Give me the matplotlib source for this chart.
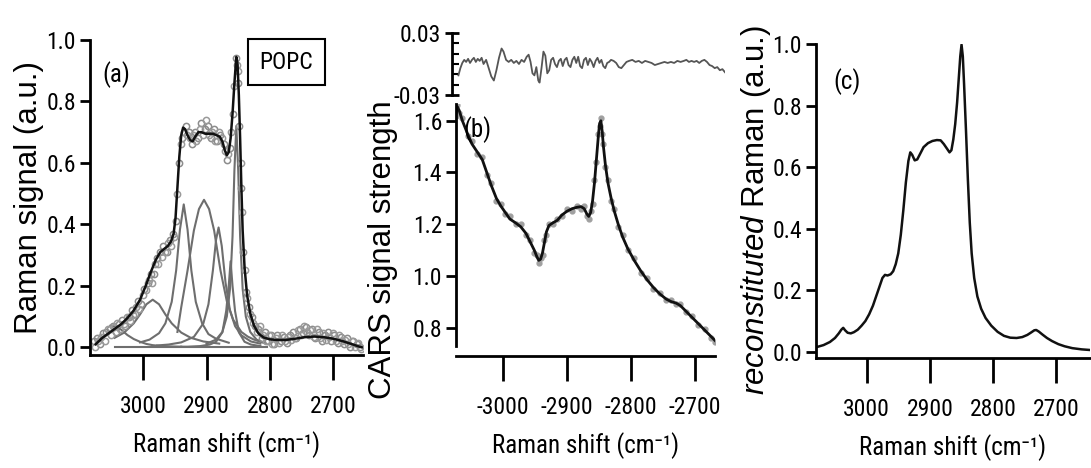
import matplotlib
matplotlib.use('Agg')
import matplotlib.pyplot as plt

COND = ['Roboto Condensed', 'PT Sans Narrow', 'Archivo Narrow', 'Liberation Sans', 'DejaVu Sans']
plt.rcParams['font.family'] = COND
plt.rcParams['mathtext.fontset'] = 'custom'
plt.rcParams['mathtext.it'] = 'Liberation Sans:italic'
plt.rcParams['mathtext.rm'] = 'Liberation Sans'

# ---- panel (a): spontaneous Raman of POPC, fit and components ----
data_a_w = [3078, 3073, 3068, 3063, 3058, 3053, 3048, 3043, 3038, 3033, 3028, 3023, 3018, 3013,
            3008, 3003, 2998, 2993, 2988, 2983, 2978, 2973, 2968, 2963, 2958, 2953, 2948, 2943,
            2938, 2933, 2928, 2923, 2918, 2913, 2908, 2903, 2898, 2893, 2888, 2883, 2878, 2873,
            2868, 2863, 2858, 2854, 2851, 2848, 2845, 2842, 2838, 2833, 2828, 2823, 2818, 2813,
            2808, 2803, 2798, 2793, 2788, 2783, 2778, 2773, 2768, 2763, 2758, 2753, 2748, 2743,
            2738, 2733, 2728, 2723, 2718, 2713, 2708, 2703, 2698, 2693, 2688, 2683, 2678, 2673,
            2668, 2663, 2658]
data_a_v = [0.02, 0.03, 0.01, 0.045, 0.05, 0.06, 0.07, 0.05, 0.075, 0.09, 0.07, 0.10, 0.12, 0.11,
            0.15, 0.14, 0.19, 0.21, 0.24, 0.24, 0.29, 0.31, 0.33, 0.31, 0.35, 0.37, 0.41, 0.60,
            0.68, 0.72, 0.70, 0.66, 0.70, 0.68, 0.73, 0.71, 0.72, 0.68, 0.71, 0.67, 0.69, 0.66,
            0.61, 0.65, 0.76, 0.94, 0.86, 0.72, 0.52, 0.31, 0.18, 0.13, 0.10, 0.07, 0.06, 0.03,
            0.05, 0.02, 0.04, 0.01, 0.04, 0.02, 0.035, 0.015, 0.04, 0.05, 0.03, 0.06, 0.045, 0.065,
            0.04, 0.06, 0.03, 0.05, 0.02, 0.04, 0.05, 0.02, 0.04, 0.015, 0.035, 0.01, 0.03, 0.0,
            0.02, 0.01, 0.0]
data_a2_w = [3076, 3071, 3066, 3061, 3056, 3051, 3046, 3041, 3036, 3031, 3026, 3021, 3016, 3011,
             3006, 3001, 2996, 2991, 2986, 2981, 2976, 2971, 2966, 2961, 2956, 2951, 2946, 2941,
             2936, 2931, 2926, 2921, 2916, 2911, 2906, 2901, 2896, 2891, 2886, 2881, 2876, 2871,
             2866, 2861, 2856, 2852, 2850, 2846, 2844, 2840, 2836, 2831, 2826, 2821, 2816, 2811,
             2806, 2801, 2796, 2791, 2786, 2781, 2776, 2771, 2766, 2761, 2756, 2751, 2746, 2741,
             2736, 2731, 2726, 2721, 2716, 2711, 2706, 2701, 2696, 2691, 2686, 2681, 2676, 2671,
             2666, 2661, 2656]
data_a2_v = [0.0, 0.02, 0.035, 0.02, 0.06, 0.04, 0.065, 0.08, 0.06, 0.075, 0.10, 0.085, 0.105, 0.13,
             0.125, 0.17, 0.185, 0.22, 0.21, 0.27, 0.27, 0.295, 0.31, 0.34, 0.33, 0.36, 0.50, 0.66,
             0.70, 0.69, 0.68, 0.69, 0.67, 0.71, 0.69, 0.74, 0.69, 0.70, 0.67, 0.70, 0.68, 0.64,
             0.63, 0.70, 0.85, 0.92, 0.90, 0.60, 0.44, 0.25, 0.16, 0.11, 0.08, 0.05, 0.07, 0.04,
             0.02, 0.04, 0.01, 0.03, 0.015, 0.04, 0.02, 0.035, 0.025, 0.03, 0.055, 0.04, 0.07, 0.05,
             0.055, 0.035, 0.06, 0.03, 0.045, 0.025, 0.035, 0.045, 0.02, 0.04, 0.02, 0.025, 0.01, 0.02,
             0.0, 0.015, -0.005]

fit_a_w = [3075, 3065, 3055, 3045, 3035, 3025, 3015, 3005, 2996, 2988, 2980, 2973, 2967, 2961,
           2956, 2952, 2949, 2946, 2943, 2940, 2937, 2934, 2930, 2926, 2922, 2918, 2913, 2908,
           2902, 2896, 2890, 2884, 2879, 2875, 2871, 2868, 2865, 2862, 2859, 2856, 2853, 2851,
           2849, 2847, 2845, 2843, 2840, 2836, 2831, 2825, 2818, 2810, 2800, 2790, 2775, 2760,
           2745, 2730, 2715, 2700, 2685, 2670, 2660, 2655]
fit_a_v = [0.01, 0.03, 0.045, 0.06, 0.075, 0.095, 0.12, 0.155, 0.2, 0.245, 0.285, 0.31, 0.32, 0.33,
           0.345, 0.37, 0.42, 0.52, 0.62, 0.69, 0.715, 0.71, 0.69, 0.675, 0.67, 0.685, 0.70, 0.70,
           0.695, 0.695, 0.695, 0.69, 0.685, 0.67, 0.64, 0.625, 0.635, 0.68, 0.76, 0.86, 0.945, 0.92,
           0.82, 0.68, 0.52, 0.38, 0.26, 0.17, 0.11, 0.07, 0.045, 0.032, 0.026, 0.024, 0.024, 0.028,
           0.033, 0.035, 0.033, 0.028, 0.02, 0.01, 0.003, 0.0]

comp1_w = [3052, 3045, 3035, 3025, 3015, 3005, 2995, 2985, 2975, 2960, 2940]
comp1_v = [0.07, 0.068, 0.058, 0.04, 0.027, 0.018, 0.011, 0.007, 0.005, 0.003, 0.002]
comp2_w = [3045, 3030, 3015, 3005, 2995, 2985, 2975, 2965, 2955, 2940, 2925, 2905, 2880]
comp2_v = [0.031, 0.048, 0.078, 0.107, 0.14, 0.155, 0.14, 0.107, 0.078, 0.048, 0.031, 0.019, 0.012]
comp3_w = [3005, 2990, 2975, 2965, 2955, 2948, 2942, 2936, 2930, 2924, 2917, 2907, 2897, 2885, 2865]
comp3_v = [0.016, 0.025, 0.046, 0.078, 0.148, 0.25, 0.383, 0.465, 0.383, 0.25, 0.148, 0.078, 0.043,
           0.028, 0.015]
comp4_w = [2946, 2940, 2930, 2920, 2912, 2904, 2896, 2888, 2878, 2868, 2858, 2845, 2835, 2825, 2810]
comp4_v = [0.05, 0.13, 0.25, 0.38, 0.45, 0.48, 0.45, 0.38, 0.25, 0.15, 0.09, 0.05, 0.035, 0.025, 0.015]
comp5_w = [2978, 2960, 2940, 2920, 2905, 2897, 2890, 2885, 2881, 2876, 2870, 2863, 2855, 2845, 2830,
           2815]
comp5_v = [0.006, 0.009, 0.016, 0.034, 0.078, 0.14, 0.25, 0.35, 0.39, 0.33, 0.21, 0.12, 0.069, 0.039,
           0.019, 0.012]
comp6_w = [2940, 2930, 2910, 2895, 2885, 2875, 2869, 2865, 2862, 2859, 2855, 2849, 2840, 2830, 2815]
comp6_v = [0.002, 0.002, 0.004, 0.009, 0.018, 0.049, 0.118, 0.2, 0.28, 0.2, 0.118, 0.049, 0.018,
           0.009, 0.004]
comp7_w = [2900, 2885, 2875, 2868, 2863, 2859, 2856, 2853, 2850, 2847, 2843, 2838, 2831, 2821, 2806]
comp7_v = [0.012, 0.025, 0.05, 0.1, 0.19, 0.36, 0.576, 0.72, 0.576, 0.36, 0.19, 0.1, 0.05, 0.025,
           0.012]
base_w = [3044, 2805]
base_v = [0.0, 0.0]
components = [(comp1_w, comp1_v), (comp2_w, comp2_v), (comp3_w, comp3_v), (comp4_w, comp4_v),
              (comp5_w, comp5_v), (comp6_w, comp6_v), (comp7_w, comp7_v), (base_w, base_v)]

# ---- panel (b): CARS spectrum with fit and residual ----
cars_w = [-3073, -3071, -3068, -3063, -3055, -3048, -3040, -3032, -3025, -3018, -3010, -3003,
          -2996, -2989, -2980, -2972, -2964, -2957, -2951, -2947, -2944, -2941, -2938, -2935,
          -2932, -2928, -2922, -2915, -2908, -2900, -2892, -2885, -2878, -2873, -2869, -2866,
          -2863, -2860, -2857, -2854, -2851, -2849, -2847, -2845, -2843, -2840, -2836, -2831,
          -2826, -2820, -2813, -2805, -2795, -2785, -2775, -2765, -2755, -2745, -2737, -2730,
          -2723, -2715, -2705, -2695, -2685, -2675, -2669]
cars_fit = [1.63, 1.655, 1.64, 1.60, 1.55, 1.51, 1.48, 1.45, 1.40, 1.35, 1.30, 1.27,
            1.245, 1.22, 1.205, 1.19, 1.165, 1.13, 1.10, 1.075, 1.06, 1.065, 1.09, 1.13,
            1.17, 1.195, 1.205, 1.215, 1.235, 1.25, 1.26, 1.265, 1.268, 1.26, 1.24, 1.23,
            1.245, 1.29, 1.36, 1.45, 1.54, 1.59, 1.60, 1.56, 1.50, 1.43, 1.36, 1.30,
            1.25, 1.20, 1.15, 1.105, 1.06, 1.02, 0.985, 0.955, 0.93, 0.91, 0.90, 0.895,
            0.885, 0.865, 0.84, 0.815, 0.79, 0.765, 0.75]
cars_data = [1.62, 1.66, 1.63, 1.61, 1.54, 1.52, 1.47, 1.46, 1.39, 1.36, 1.29, 1.28,
             1.24, 1.23, 1.20, 1.20, 1.16, 1.14, 1.09, 1.08, 1.05, 1.07, 1.08, 1.14,
             1.16, 1.20, 1.20, 1.22, 1.23, 1.26, 1.25, 1.27, 1.26, 1.27, 1.23, 1.22,
             1.25, 1.28, 1.37, 1.44, 1.55, 1.58, 1.61, 1.55, 1.51, 1.42, 1.37, 1.29,
             1.26, 1.19, 1.16, 1.10, 1.07, 1.01, 0.99, 0.95, 0.935, 0.905, 0.905, 0.89,
             0.89, 0.86, 0.845, 0.81, 0.795, 0.76, 0.745]

resid_w = [-3067, -3064, -3061, -3058, -3055, -3052, -3049, -3046, -3043, -3040, -3037, -3034,
           -3031, -3028, -3024, -3020, -3016, -3012, -3008, -3004, -3000, -2997, -2993, -2989,
           -2985, -2981, -2977, -2973, -2969, -2965, -2961, -2958, -2955, -2952, -2949, -2946,
           -2943, -2941, -2938, -2935, -2932, -2929, -2926, -2923, -2920, -2917, -2914, -2911,
           -2908, -2905, -2902, -2899, -2896, -2893, -2890, -2887, -2884, -2881, -2878, -2875,
           -2872, -2869, -2866, -2863, -2860, -2857, -2854, -2851, -2848, -2845, -2842, -2839,
           -2836, -2833, -2830, -2826, -2822, -2818, -2814, -2810, -2806, -2802, -2797, -2792,
           -2787, -2782, -2777, -2772, -2767, -2762, -2757, -2752, -2747, -2742, -2737, -2732,
           -2727, -2722, -2717, -2713, -2709, -2705, -2701, -2697, -2693, -2689, -2685, -2681,
           -2677, -2673, -2669, -2665, -2661, -2657, -2653]
resid_v = [-0.011, -0.004, 0.001, 0.004, 0.002, 0.005, 0.001, 0.004, 0.006, 0.002, 0.005, 0.003,
           0.006, 0.0, 0.004, -0.004, -0.012, -0.016, -0.006, 0.006, 0.015, 0.012, 0.004, 0.002,
           0.004, 0.001, 0.003, 0.0, 0.004, 0.002, 0.007, 0.009, 0.002, -0.009, -0.011, -0.003,
           -0.016, -0.018, -0.004, 0.012, 0.008, -0.009, -0.006, 0.004, 0.006, 0.0, -0.003, 0.003,
           0.005, -0.002, 0.004, 0.006, -0.001, -0.003, 0.004, 0.007, 0.001, 0.007, -0.002, -0.004,
           0.004, 0.006, -0.001, 0.005, 0.002, -0.003, 0.003, 0.006, 0.001, 0.004, -0.002, -0.004,
           0.001, 0.002, 0.004, 0.003, 0.001, -0.003, -0.004, -0.001, 0.002, 0.003, 0.004, 0.002,
           0.003, 0.001, 0.003, 0.002, 0.001, -0.001, 0.0, 0.001, 0.002, 0.001, 0.002, 0.001,
           0.003, 0.002, 0.003, 0.004, 0.002, 0.003, 0.002, 0.003, 0.001, 0.003, 0.004, 0.002,
           -0.001, -0.002, -0.004, -0.003, -0.006, -0.005, -0.008]

# ---- panel (c): reconstituted Raman ----
recon_w = [3078, 3068, 3058, 3050, 3044, 3040, 3037, 3034, 3030, 3025, 3020, 3014, 3008, 3002,
           2996, 2990, 2985, 2980, 2975, 2971, 2967, 2962, 2958, 2954, 2950, 2946, 2942, 2938,
           2934, 2931, 2928, 2924, 2920, 2915, 2910, 2903, 2896, 2889, 2883, 2878, 2873, 2869,
           2866, 2863, 2860, 2857, 2854, 2852, 2850, 2848, 2846, 2843, 2840, 2837, 2834, 2830,
           2825, 2819, 2812, 2803, 2793, 2783, 2773, 2763, 2754, 2746, 2740, 2735, 2732, 2728,
           2722, 2715, 2707, 2697, 2687, 2675, 2660, 2647]
recon_v = [0.016, 0.022, 0.032, 0.045, 0.06, 0.072, 0.078, 0.07, 0.062, 0.06, 0.064, 0.072, 0.085,
           0.10, 0.122, 0.15, 0.18, 0.21, 0.24, 0.25, 0.248, 0.252, 0.262, 0.285, 0.32, 0.38, 0.46,
           0.55, 0.62, 0.648, 0.64, 0.622, 0.625, 0.645, 0.665, 0.678, 0.685, 0.688, 0.687, 0.675,
           0.66, 0.648, 0.655, 0.69, 0.74, 0.81, 0.9, 0.96, 0.998, 0.96, 0.87, 0.72, 0.56, 0.42,
           0.32, 0.24, 0.18, 0.14, 0.11, 0.085, 0.065, 0.052, 0.046, 0.045, 0.048, 0.055, 0.063,
           0.07, 0.071, 0.066, 0.056, 0.045, 0.035, 0.025, 0.018, 0.012, 0.008, 0.006]

W, H = 1091, 468
fig = plt.figure(figsize=(W / 100, H / 100), dpi=100)


def px_axes(l, t, r, b):
    return fig.add_axes([l / W, 1 - b / H, (r - l) / W, (b - t) / H])


def style(ax):
    for s in ['top', 'right']:
        ax.spines[s].set_visible(False)
    for s in ['left', 'bottom']:
        ax.spines[s].set_linewidth(2)
    ax.tick_params(axis='x', direction='out', length=18, width=2, pad=11, labelsize=17)
    ax.tick_params(axis='y', direction='out', length=7, width=2, pad=3, labelsize=17)


ylab_font = dict(family=['Liberation Sans', 'DejaVu Sans'], fontsize=22.5)
xlab = 'Raman shift (cm\u207b\u00b9)'
xlab_font = dict(fontsize=18, labelpad=9)

# (a)
ax1 = px_axes(90, 40, 363, 355)
style(ax1)
for cw, cv in components:
    ax1.plot(cw, cv, color='#6e6e6e', lw=1.5)
ax1.plot(data_a_w, data_a_v, 'o', mfc='none', mec='#8c8c8c', ms=4.5, mew=1.1)
ax1.plot(data_a2_w, data_a2_v, 'o', mfc='none', mec='#9a9a9a', ms=4.5, mew=1.1)
ax1.plot(fit_a_w, fit_a_v, color='#111111', lw=1.8)
ax1.set_xlim(3084, 2653)
ax1.set_ylim(-0.025, 1.0)
ax1.set_xticks([3000, 2900, 2800, 2700])
ax1.set_yticks([0.0, 0.2, 0.4, 0.6, 0.8, 1.0])
ax1.set_yticklabels(['0.0', '0.2', '0.4', '0.6', '0.8', '1.0'])
ax1.set_ylabel('Raman signal (a.u.)', labelpad=2, **ylab_font)
ax1.set_xlabel(xlab, **xlab_font)
ax1.text(0.045, 0.89, '(a)', transform=ax1.transAxes, fontsize=18, va='center')
ax1.text(0.72, 0.93, 'POPC', transform=ax1.transAxes, fontsize=17, ha='center', va='center',
         bbox=dict(boxstyle='square,pad=0.5', fc='white', ec='black', lw=1.5))

# (b) residual
axr = px_axes(452, 33, 725, 95)
for s in ['top', 'right', 'bottom']:
    axr.spines[s].set_visible(False)
axr.spines['left'].set_linewidth(2)
axr.plot(resid_w, resid_v, color='#555555', lw=1.3)
axr.set_xlim(-3077, -2653)
axr.set_ylim(-0.03, 0.03)
axr.set_xticks([])
axr.set_yticks([-0.03, 0.03])
axr.set_yticklabels(['-0.03', '0.03'])
axr.set_yticks([-0.02, -0.01, 0.0, 0.01, 0.02], minor=True)
axr.tick_params(axis='y', which='major', direction='inout', length=10, width=2, pad=3, labelsize=17)
axr.tick_params(axis='y', which='minor', direction='in', length=5, width=1.5)

# (b) main
ax2 = px_axes(456, 104, 715, 356)
style(ax2)
ax2.plot(cars_w, cars_data, 'o', color='#a0a0a0', ms=3.5)
ax2.plot(cars_w, cars_fit, color='#111111', lw=2)
ax2.set_xlim(-3073, -2669)
ax2.set_ylim(0.69, 1.665)
ax2.spines['left'].set_bounds(0.73, 1.665)
ax2.set_xticks([-3000, -2900, -2800, -2700])
ax2.set_xticklabels(['-3000', '-2900', '-2800', '-2700'])
ax2.set_yticks([0.8, 1.0, 1.2, 1.4, 1.6])
ax2.set_xlabel(xlab, **xlab_font)
fig.text(383 / W, 1 - 250 / H, 'CARS signal strength', rotation=90, ha='center', va='center',
         **ylab_font)
ax2.text(0.03, 0.9, '(b)', transform=ax2.transAxes, fontsize=18, va='center')

# (c)
ax3 = px_axes(816, 44, 1090, 358)
style(ax3)
ax3.plot(recon_w, recon_v, color='#111111', lw=1.8)
ax3.set_xlim(3080, 2647)
ax3.set_ylim(-0.02, 1.0)
ax3.set_xticks([3000, 2900, 2800, 2700])
ax3.set_yticks([0.0, 0.2, 0.4, 0.6, 0.8, 1.0])
ax3.set_yticklabels(['0.0', '0.2', '0.4', '0.6', '0.8', '1.0'])
ax3.set_xlabel(xlab, **xlab_font)
fig.text(756 / W, 1 - 210 / H, r'$\mathit{reconstituted}$ Raman (a.u.)', rotation=90,
         ha='center', va='center', **ylab_font)
ax3.text(0.065, 0.88, '(c)', transform=ax3.transAxes, fontsize=18, va='center')

fig.savefig('out.png', dpi=100)
